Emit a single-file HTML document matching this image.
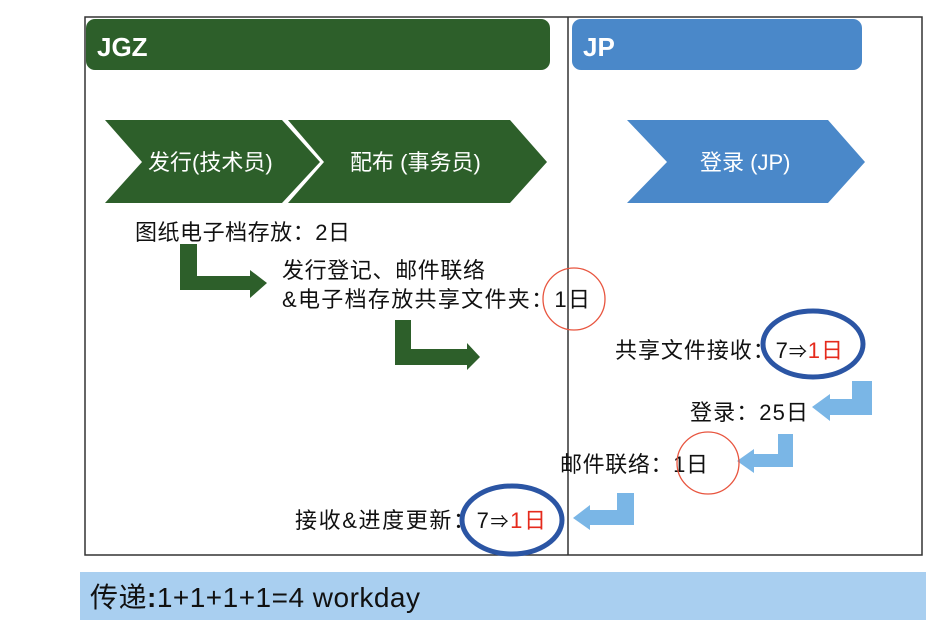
<!DOCTYPE html>
<html><head><meta charset="utf-8"><style>
html,body{margin:0;padding:0;background:#fff;}
svg{display:block;}
text{font-family:"Liberation Sans","Noto Sans CJK SC",sans-serif;}
</style></head><body>
<svg width="951" height="641" viewBox="0 0 951 641" xmlns="http://www.w3.org/2000/svg">
<rect x="0" y="0" width="951" height="641" fill="#fff"/>
<rect x="85" y="17" width="837" height="538" fill="none" stroke="#333" stroke-width="1.5"/>
<line x1="568" y1="17" x2="568" y2="555" stroke="#333" stroke-width="1.5"/>
<rect x="86" y="19" width="464" height="51" rx="9" fill="#2d5f2a"/>
<text x="97" y="56" font-size="26" font-weight="bold" fill="#fff">JGZ</text>
<rect x="572" y="19" width="290" height="51" rx="9" fill="#4a88c9"/>
<text x="583" y="56" font-size="26" font-weight="bold" fill="#fff">JP</text>
<polygon points="105,120 282,120 320,162 282,203 105,203 142,162" fill="#2d5f2a"/>
<polygon points="288,120 510,120 547,162 510,203 288,203 324,162" fill="#2d5f2a"/>
<text x="148" y="170" font-size="22" fill="#fff">发行(技术员)</text>
<text x="350" y="170" font-size="22" fill="#fff">配布 (事务员)</text>
<polygon points="627,120 828,120 865,162 828,203 627,203 667,162" fill="#4a88c9"/>
<text x="700" y="170" font-size="22" fill="#fff">登录 (JP)</text>
<polygon points="180,244 197,244 197,276 250,276 250,270 267,283 250,298 250,290 180,290" fill="#2d5f2a"/>
<polygon points="395,320 411,320 411,349 467,349 467,343 480,357 467,370 467,365 395,365" fill="#2d5f2a"/>
<polygon points="852,381 872,381 872,415 830,415 830,421 812,407 830,394 830,399 852,399" fill="#7ab6e6"/>
<polygon points="778,434 793,434 793,467 754,467 754,473 737,461 754,449 754,454 778,454" fill="#7ab6e6"/>
<polygon points="617,493 634,493 634,525 590,525 590,530 573,518 590,505 590,510 617,510" fill="#7ab6e6"/>
<g font-size="22" fill="#111">
<text x="135" y="240" textLength="215" lengthAdjust="spacing">图纸电子档存放：2日</text>
<text x="282" y="278" textLength="203" lengthAdjust="spacing">发行登记、邮件联络</text>
<text x="282" y="307" textLength="308" lengthAdjust="spacing">&amp;电子档存放共享文件夹：1日</text>
<text x="615" y="358" textLength="228" lengthAdjust="spacing">共享文件接收：7<tspan font-size="18">⇒</tspan><tspan fill="#e52a1c">1日</tspan></text>
<text x="690" y="420" textLength="118" lengthAdjust="spacing">登录：25日</text>
<text x="560" y="472" textLength="148" lengthAdjust="spacing">邮件联络：1日</text>
<text x="295" y="528" textLength="251" lengthAdjust="spacing">接收&amp;进度更新：7<tspan font-size="18">⇒</tspan><tspan fill="#e52a1c">1日</tspan></text>
</g>
<circle cx="574" cy="299" r="31" fill="none" stroke="#e8553f" stroke-width="1.3"/>
<circle cx="708" cy="463" r="31" fill="none" stroke="#e8553f" stroke-width="1.3"/>
<ellipse cx="813" cy="344" rx="50" ry="33" fill="none" stroke="#2b55a4" stroke-width="5"/>
<ellipse cx="512" cy="520" rx="50" ry="34" fill="none" stroke="#2b55a4" stroke-width="5"/>
<rect x="80" y="572" width="846" height="48" fill="#a9cff0"/>
<text x="90" y="607" font-size="28" fill="#111" textLength="330" lengthAdjust="spacing">传递<tspan font-weight="bold">:</tspan>1+1+1+1=4 workday</text>
</svg>
</body></html>
